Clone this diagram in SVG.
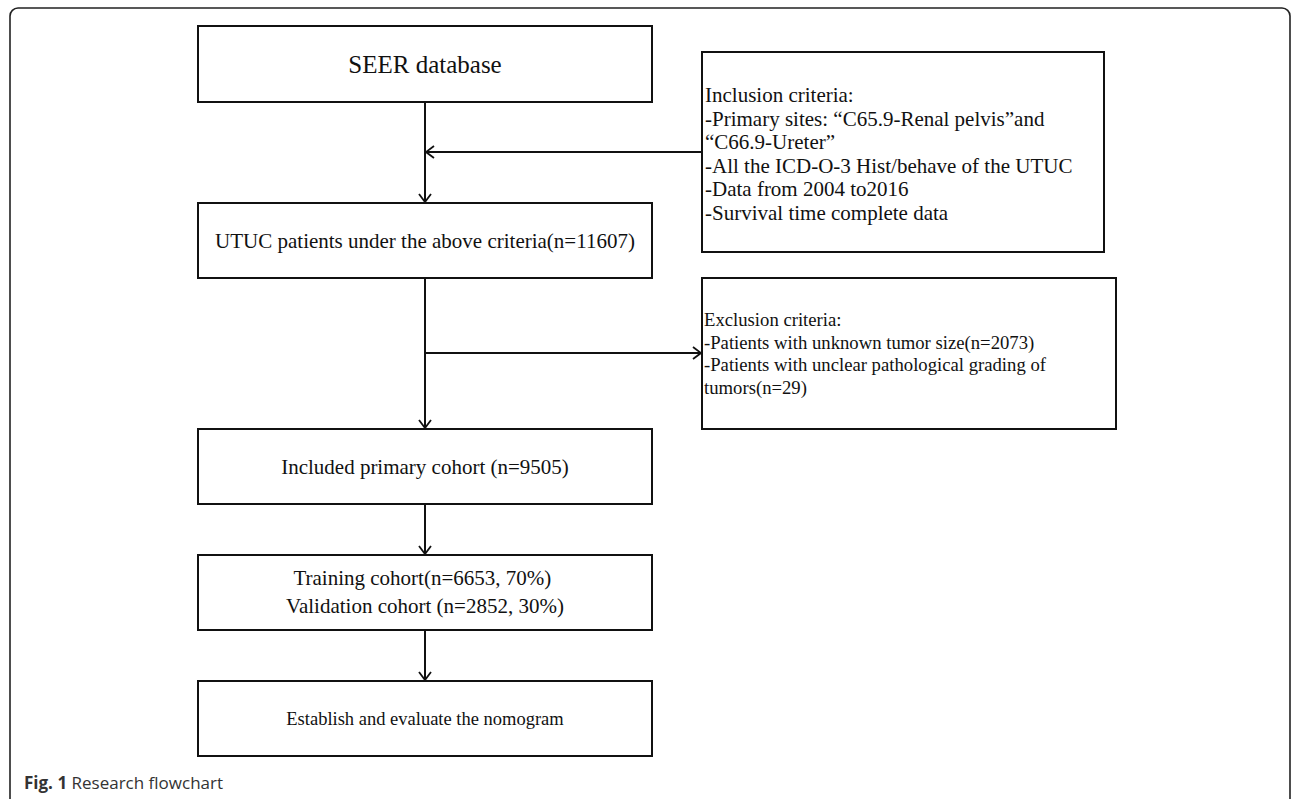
<svg xmlns="http://www.w3.org/2000/svg" width="1292" height="799" viewBox="0 0 1292 799">
<style>
.box{fill:#fff;stroke:#111;stroke-width:2}
.t{font-family:"Liberation Serif","Times New Roman",serif;fill:#111}
.c{text-anchor:middle}
.con{stroke:#111;stroke-width:2;fill:none}
.cap{font-family:"Open Sans","Noto Sans",sans-serif;font-size:17px;fill:#333}
</style>
<defs>
<marker id="ah" markerUnits="userSpaceOnUse" viewBox="0 0 10 14" refX="9" refY="7" markerWidth="10" markerHeight="14" orient="auto">
<path d="M1,1 L9,7 L1,13" fill="none" stroke="#111" stroke-width="1.8"/>
</marker>
</defs>
<rect width="1292" height="799" fill="#fff"/>
<path d="M10,805 V16 A8,8 0 0 1 18,8 H1282 A8,8 0 0 1 1290,16 V805" fill="none" stroke="#222" stroke-width="1.6"/>
<g id="connectors">
<line class="con" x1="425" y1="102" x2="425" y2="202" marker-end="url(#ah)"/>
<line class="con" x1="702" y1="152" x2="426" y2="152" marker-end="url(#ah)"/>
<line class="con" x1="425" y1="278" x2="425" y2="428" marker-end="url(#ah)"/>
<line class="con" x1="425" y1="353" x2="701" y2="353" marker-end="url(#ah)"/>
<line class="con" x1="425" y1="504" x2="425" y2="554" marker-end="url(#ah)"/>
<line class="con" x1="425" y1="630" x2="425" y2="680" marker-end="url(#ah)"/>
</g>
<g id="seer">
<rect class="box" x="198" y="26" width="454" height="76"/>
<text class="t c" x="425" y="73" font-size="25">SEER database</text>
</g>
<g id="inclusion">
<rect class="box" x="702" y="52" width="402" height="200"/>
<text class="t" x="705" font-size="21">
<tspan x="705" y="102">Inclusion criteria:</tspan>
<tspan x="705" y="125.5">-Primary sites: “C65.9-Renal pelvis”and</tspan>
<tspan x="705" y="149">“C66.9-Ureter”</tspan>
<tspan x="705" y="172.5">-All the ICD-O-3 Hist/behave of the UTUC</tspan>
<tspan x="705" y="196">-Data from 2004 to2016</tspan>
<tspan x="705" y="219.5">-Survival time complete data</tspan>
</text>
</g>
<g id="utuc">
<rect class="box" x="198" y="203" width="454" height="75"/>
<text class="t c" x="425" y="248" font-size="21">UTUC patients under the above criteria(n=11607)</text>
</g>
<g id="exclusion">
<rect class="box" x="702" y="278" width="414" height="151"/>
<text class="t" font-size="18.7">
<tspan x="704" y="326">Exclusion criteria:</tspan>
<tspan x="704" y="348.5">-Patients with unknown tumor size(n=2073)</tspan>
<tspan x="704" y="371">-Patients with unclear pathological grading of</tspan>
<tspan x="704" y="393.5">tumors(n=29)</tspan>
</text>
</g>
<g id="included">
<rect class="box" x="198" y="429" width="454" height="75"/>
<text class="t c" x="425" y="474" font-size="21">Included primary cohort (n=9505)</text>
</g>
<g id="training">
<rect class="box" x="198" y="555" width="454" height="75"/>
<text class="t c" font-size="21">
<tspan x="425" y="585">Training cohort(n=6653, 70%)</tspan>
<tspan x="425" y="613">Validation cohort (n=2852, 30%)</tspan>
</text>
</g>
<g id="establish">
<rect class="box" x="198" y="681" width="454" height="75"/>
<text class="t c" x="425" y="725" font-size="18.5">Establish and evaluate the nomogram</text>
</g>
<text class="cap" x="24" y="789"><tspan font-weight="bold">Fig. 1</tspan> Research flowchart</text>
</svg>
